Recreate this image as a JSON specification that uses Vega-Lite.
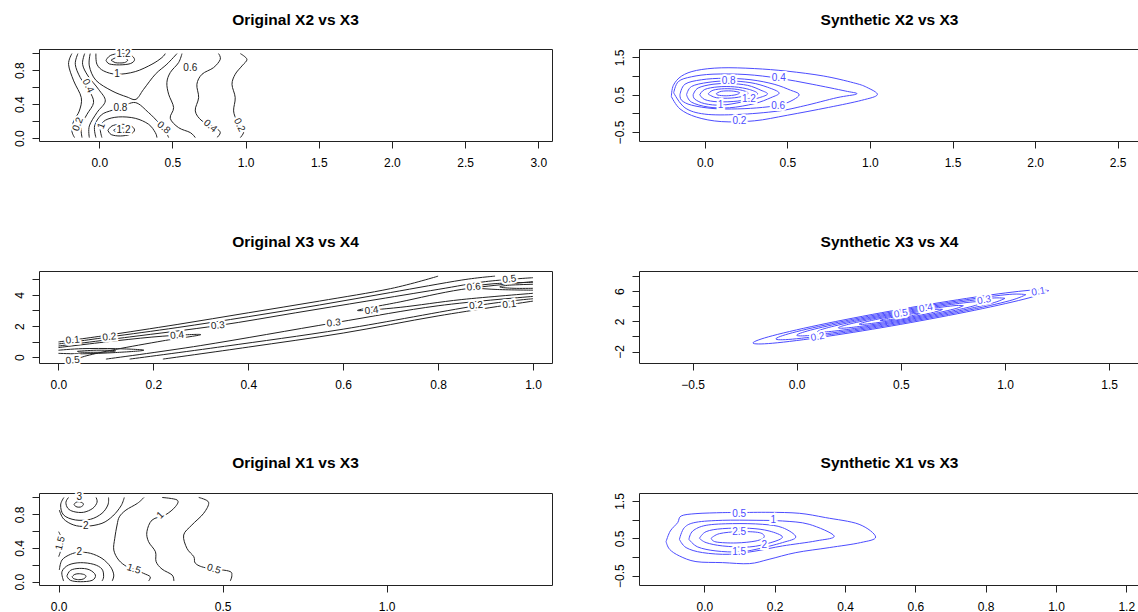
{
  "$schema": "https://vega.github.io/schema/vega-lite/v6.json",
  "background": "white",
  "padding": {"left": 12, "top": 12, "right": 0, "bottom": 0},
  "columns": 2,
  "spacing": {"row": 130, "column": 87},
  "bounds": "flush",
  "config": {
    "font": "Liberation Sans",
    "view": {"stroke": "#222", "strokeWidth": 1},
    "axis": {"domain": false, "grid": false, "ticks": true, "tickColor": "#222", "tickSize": 7, "labelColor": "#000", "labelFontSize": 12, "labelFont": "Liberation Sans", "labelFlush": false, "labelOverlap": false},
    "axisX": {"labelPadding": 9},
    "axisY": {"labelAngle": 270, "labelAlign": "center", "labelBaseline": "bottom", "labelPadding": 6},
    "title": {"fontSize": 15.5, "fontWeight": "bold", "font": "Liberation Sans", "color": "#000", "anchor": "middle", "frame": "group", "baseline": "alphabetic", "offset": 21},
    "text": {"font": "Liberation Sans", "fontSize": 10}
  },
  "datasets": {
    "A_lines": [
      {"id":"a1","s":1,"x":-0.187,"y":0.996},{"id":"a1","s":2,"x":-0.21,"y":0.87},{"id":"a1","s":3,"x":-0.175,"y":0.675},{"id":"a1","s":4,"x":-0.123,"y":0.478},{"id":"a1","s":5,"x":-0.137,"y":0.32},{"id":"a1","s":6,"x":-0.175,"y":0.204},{"id":"a1","s":7,"x":-0.187,"y":0.086},{"id":"a1","s":8,"x":-0.169,"y":0.008},
      {"id":"a2","s":1,"x":-0.146,"y":0.996},{"id":"a2","s":2,"x":-0.164,"y":0.87},{"id":"a2","s":3,"x":-0.13,"y":0.714},{"id":"a2","s":4,"x":-0.068,"y":0.557},{"id":"a2","s":5,"x":-0.039,"y":0.42},{"id":"a2","s":6,"x":-0.084,"y":0.282},{"id":"a2","s":7,"x":-0.123,"y":0.145},{"id":"a2","s":8,"x":-0.118,"y":0.008},
      {"id":"a3","s":1,"x":-0.1,"y":0.996},{"id":"a3","s":2,"x":-0.114,"y":0.87},{"id":"a3","s":3,"x":-0.077,"y":0.733},{"id":"a3","s":4,"x":-0.005,"y":0.576},{"id":"a3","s":5,"x":0.041,"y":0.439},{"id":"a3","s":6,"x":-0.016,"y":0.302},{"id":"a3","s":7,"x":-0.068,"y":0.145},{"id":"a3","s":8,"x":-0.068,"y":0.008},
      {"id":"a4","s":1,"x":-0.062,"y":0.996},{"id":"a4","s":2,"x":-0.068,"y":0.851},{"id":"a4","s":3,"x":-0.023,"y":0.682},{"id":"a4","s":4,"x":0.087,"y":0.557},{"id":"a4","s":5,"x":0.189,"y":0.486},{"id":"a4","s":6,"x":0.251,"y":0.459},{"id":"a4","s":7,"x":0.303,"y":0.576},{"id":"a4","s":8,"x":0.383,"y":0.753},{"id":"a4","s":9,"x":0.462,"y":0.871},{"id":"a4","s":10,"x":0.531,"y":0.996},
      {"id":"a5","s":1,"x":-0.023,"y":0.008},{"id":"a5","s":2,"x":-0.032,"y":0.145},{"id":"a5","s":3,"x":0.014,"y":0.275},{"id":"a5","s":4,"x":0.087,"y":0.329},{"id":"a5","s":5,"x":0.144,"y":0.361},{"id":"a5","s":6,"x":0.246,"y":0.42},{"id":"a5","s":7,"x":0.337,"y":0.302},{"id":"a5","s":8,"x":0.405,"y":0.184},{"id":"a5","s":9,"x":0.451,"y":0.086},{"id":"a5","s":10,"x":0.474,"y":0.008},
      {"id":"a6","s":1,"x":-0.023,"y":0.996},{"id":"a6","s":2,"x":-0.016,"y":0.871},{"id":"a6","s":3,"x":0.03,"y":0.792},{"id":"a6","s":4,"x":0.121,"y":0.753},{"id":"a6","s":5,"x":0.246,"y":0.784},{"id":"a6","s":6,"x":0.36,"y":0.871},{"id":"a6","s":7,"x":0.428,"y":0.949},{"id":"a6","s":8,"x":0.451,"y":0.996},
      {"id":"a7","s":1,"x":0.018,"y":0.008},{"id":"a7","s":2,"x":0.007,"y":0.125},{"id":"a7","s":3,"x":0.041,"y":0.212},{"id":"a7","s":4,"x":0.132,"y":0.251},{"id":"a7","s":5,"x":0.246,"y":0.235},{"id":"a7","s":6,"x":0.337,"y":0.165},{"id":"a7","s":7,"x":0.383,"y":0.067},{"id":"a7","s":8,"x":0.394,"y":0.008},
      {"id":"a8","s":1,"x":0.046,"y":0.918},{"id":"a8","s":2,"x":0.075,"y":0.973},{"id":"a8","s":3,"x":0.137,"y":0.996},{"id":"a8","s":4,"x":0.212,"y":0.98},{"id":"a8","s":5,"x":0.241,"y":0.925},{"id":"a8","s":6,"x":0.212,"y":0.878},{"id":"a8","s":7,"x":0.137,"y":0.863},{"id":"a8","s":8,"x":0.068,"y":0.875},{"id":"a8","s":9,"x":0.046,"y":0.918},
      {"id":"a9","s":1,"x":0.08,"y":0.918},{"id":"a9","s":2,"x":0.109,"y":0.945},{"id":"a9","s":3,"x":0.137,"y":0.949},{"id":"a9","s":4,"x":0.173,"y":0.945},{"id":"a9","s":5,"x":0.194,"y":0.918},{"id":"a9","s":6,"x":0.173,"y":0.89},{"id":"a9","s":7,"x":0.137,"y":0.886},{"id":"a9","s":8,"x":0.109,"y":0.89},{"id":"a9","s":9,"x":0.08,"y":0.918},
      {"id":"a10","s":1,"x":0.059,"y":0.094},{"id":"a10","s":2,"x":0.087,"y":0.145},{"id":"a10","s":3,"x":0.144,"y":0.165},{"id":"a10","s":4,"x":0.212,"y":0.149},{"id":"a10","s":5,"x":0.241,"y":0.098},{"id":"a10","s":6,"x":0.212,"y":0.047},{"id":"a10","s":7,"x":0.144,"y":0.027},{"id":"a10","s":8,"x":0.082,"y":0.043},{"id":"a10","s":9,"x":0.059,"y":0.094},
      {"id":"a11","s":1,"x":0.098,"y":0.094},{"id":"a11","s":2,"x":0.121,"y":0.118},{"id":"a11","s":3,"x":0.15,"y":0.122},{"id":"a11","s":4,"x":0.182,"y":0.114},{"id":"a11","s":5,"x":0.196,"y":0.094},{"id":"a11","s":6,"x":0.178,"y":0.071},{"id":"a11","s":7,"x":0.144,"y":0.067},{"id":"a11","s":8,"x":0.114,"y":0.075},{"id":"a11","s":9,"x":0.098,"y":0.094},
      {"id":"a12","s":1,"x":0.565,"y":0.996},{"id":"a12","s":2,"x":0.542,"y":0.89},{"id":"a12","s":3,"x":0.485,"y":0.773},{"id":"a12","s":4,"x":0.462,"y":0.655},{"id":"a12","s":5,"x":0.474,"y":0.518},{"id":"a12","s":6,"x":0.508,"y":0.361},{"id":"a12","s":7,"x":0.485,"y":0.235},{"id":"a12","s":8,"x":0.542,"y":0.125},{"id":"a12","s":9,"x":0.622,"y":0.067},{"id":"a12","s":10,"x":0.656,"y":0.008},
      {"id":"a13","s":1,"x":0.815,"y":0.996},{"id":"a13","s":2,"x":0.827,"y":0.929},{"id":"a13","s":3,"x":0.781,"y":0.831},{"id":"a13","s":4,"x":0.702,"y":0.753},{"id":"a13","s":5,"x":0.667,"y":0.635},{"id":"a13","s":6,"x":0.679,"y":0.478},{"id":"a13","s":7,"x":0.656,"y":0.322},{"id":"a13","s":8,"x":0.702,"y":0.204},{"id":"a13","s":9,"x":0.793,"y":0.125},{"id":"a13","s":10,"x":0.827,"y":0.067},{"id":"a13","s":11,"x":0.804,"y":0.008},
      {"id":"a14","s":1,"x":0.964,"y":0.996},{"id":"a14","s":2,"x":1.009,"y":0.929},{"id":"a14","s":3,"x":0.975,"y":0.851},{"id":"a14","s":4,"x":0.929,"y":0.753},{"id":"a14","s":5,"x":0.907,"y":0.635},{"id":"a14","s":6,"x":0.929,"y":0.478},{"id":"a14","s":7,"x":0.918,"y":0.322},{"id":"a14","s":8,"x":0.941,"y":0.204},{"id":"a14","s":9,"x":0.975,"y":0.125},{"id":"a14","s":10,"x":0.986,"y":0.067},{"id":"a14","s":11,"x":0.964,"y":0.008}
    ],
    "A_labels": [
      {"x":0.166,"y":0.99,"t":"1.2"},{"x":0.121,"y":0.753,"t":"1"},{"x":0.622,"y":0.831,"t":"0.6"},{"x":0.144,"y":0.361,"t":"0.8"},{"x":0.166,"y":0.094,"t":"1.2"}
    ],
    "A_labels_down": [
      {"x":-0.077,"y":0.616,"t":"0.4"},{"x":0.957,"y":0.157,"t":"0.2"}
    ],
    "A_labels_up": [
      {"x":-0.146,"y":0.165,"t":"0.2"},{"x":0.014,"y":0.145,"t":"1"}
    ],
    "A_labels_tilt": [
      {"x":0.44,"y":0.125,"t":"0.8"},{"x":0.759,"y":0.145,"t":"0.4"}
    ],
    "B_lines": [
      {"id":"b1","s":1,"x":-0.202,"y":0.45},{"id":"b1","s":2,"x":-0.19,"y":0.75},{"id":"b1","s":3,"x":-0.14,"y":1.0},{"id":"b1","s":4,"x":-0.05,"y":1.15},{"id":"b1","s":5,"x":0.1,"y":1.22},{"id":"b1","s":6,"x":0.3,"y":1.2},{"id":"b1","s":7,"x":0.5,"y":1.13},{"id":"b1","s":8,"x":0.72,"y":1.0},{"id":"b1","s":9,"x":0.9,"y":0.82},{"id":"b1","s":10,"x":0.98,"y":0.7},{"id":"b1","s":11,"x":1.045,"y":0.5},{"id":"b1","s":12,"x":0.95,"y":0.35},{"id":"b1","s":13,"x":0.75,"y":0.16},{"id":"b1","s":14,"x":0.5,"y":-0.05},{"id":"b1","s":15,"x":0.3,"y":-0.2},{"id":"b1","s":16,"x":0.1,"y":-0.22},{"id":"b1","s":17,"x":-0.05,"y":-0.1},{"id":"b1","s":18,"x":-0.15,"y":0.12},{"id":"b1","s":19,"x":-0.202,"y":0.45},
      {"id":"b2","s":1,"x":-0.188,"y":0.55},{"id":"b2","s":2,"x":-0.16,"y":0.85},{"id":"b2","s":3,"x":-0.08,"y":0.98},{"id":"b2","s":4,"x":0.05,"y":1.05},{"id":"b2","s":5,"x":0.25,"y":1.04},{"id":"b2","s":6,"x":0.45,"y":0.94},{"id":"b2","s":7,"x":0.65,"y":0.78},{"id":"b2","s":8,"x":0.85,"y":0.6},{"id":"b2","s":9,"x":0.92,"y":0.52},{"id":"b2","s":10,"x":0.8,"y":0.42},{"id":"b2","s":11,"x":0.6,"y":0.2},{"id":"b2","s":12,"x":0.44,"y":0.06},{"id":"b2","s":13,"x":0.2,"y":-0.03},{"id":"b2","s":14,"x":0.0,"y":-0.02},{"id":"b2","s":15,"x":-0.12,"y":0.15},{"id":"b2","s":16,"x":-0.188,"y":0.55},
      {"id":"b3","s":1,"x":-0.15,"y":0.5},{"id":"b3","s":2,"x":-0.12,"y":0.78},{"id":"b3","s":3,"x":-0.02,"y":0.9},{"id":"b3","s":4,"x":0.12,"y":0.94},{"id":"b3","s":5,"x":0.28,"y":0.9},{"id":"b3","s":6,"x":0.42,"y":0.78},{"id":"b3","s":7,"x":0.52,"y":0.62},{"id":"b3","s":8,"x":0.57,"y":0.52},{"id":"b3","s":9,"x":0.55,"y":0.4},{"id":"b3","s":10,"x":0.47,"y":0.24},{"id":"b3","s":11,"x":0.35,"y":0.16},{"id":"b3","s":12,"x":0.2,"y":0.12},{"id":"b3","s":13,"x":0.05,"y":0.13},{"id":"b3","s":14,"x":-0.08,"y":0.22},{"id":"b3","s":15,"x":-0.14,"y":0.35},{"id":"b3","s":16,"x":-0.15,"y":0.5},
      {"id":"b4","s":1,"x":-0.11,"y":0.5},{"id":"b4","s":2,"x":-0.08,"y":0.72},{"id":"b4","s":3,"x":0.02,"y":0.83},{"id":"b4","s":4,"x":0.145,"y":0.87},{"id":"b4","s":5,"x":0.28,"y":0.82},{"id":"b4","s":6,"x":0.38,"y":0.7},{"id":"b4","s":7,"x":0.45,"y":0.55},{"id":"b4","s":8,"x":0.4,"y":0.42},{"id":"b4","s":9,"x":0.3,"y":0.26},{"id":"b4","s":10,"x":0.15,"y":0.15},{"id":"b4","s":11,"x":0.02,"y":0.17},{"id":"b4","s":12,"x":-0.08,"y":0.3},{"id":"b4","s":13,"x":-0.11,"y":0.5},
      {"id":"b5","s":1,"x":-0.07,"y":0.5},{"id":"b5","s":2,"x":-0.04,"y":0.68},{"id":"b5","s":3,"x":0.05,"y":0.78},{"id":"b5","s":4,"x":0.15,"y":0.8},{"id":"b5","s":5,"x":0.26,"y":0.75},{"id":"b5","s":6,"x":0.34,"y":0.62},{"id":"b5","s":7,"x":0.38,"y":0.52},{"id":"b5","s":8,"x":0.33,"y":0.42},{"id":"b5","s":9,"x":0.22,"y":0.3},{"id":"b5","s":10,"x":0.1,"y":0.22},{"id":"b5","s":11,"x":0.0,"y":0.26},{"id":"b5","s":12,"x":-0.06,"y":0.38},{"id":"b5","s":13,"x":-0.07,"y":0.5},
      {"id":"b6","s":1,"x":-0.03,"y":0.5},{"id":"b6","s":2,"x":0.0,"y":0.64},{"id":"b6","s":3,"x":0.08,"y":0.71},{"id":"b6","s":4,"x":0.18,"y":0.71},{"id":"b6","s":5,"x":0.27,"y":0.64},{"id":"b6","s":6,"x":0.32,"y":0.53},{"id":"b6","s":7,"x":0.28,"y":0.42},{"id":"b6","s":8,"x":0.2,"y":0.33},{"id":"b6","s":9,"x":0.08,"y":0.31},{"id":"b6","s":10,"x":0.0,"y":0.37},{"id":"b6","s":11,"x":-0.03,"y":0.5},
      {"id":"b7","s":1,"x":0.02,"y":0.52},{"id":"b7","s":2,"x":0.05,"y":0.62},{"id":"b7","s":3,"x":0.12,"y":0.66},{"id":"b7","s":4,"x":0.2,"y":0.64},{"id":"b7","s":5,"x":0.26,"y":0.56},{"id":"b7","s":6,"x":0.24,"y":0.47},{"id":"b7","s":7,"x":0.16,"y":0.41},{"id":"b7","s":8,"x":0.07,"y":0.42},{"id":"b7","s":9,"x":0.02,"y":0.52},
      {"id":"b8","s":1,"x":0.07,"y":0.53},{"id":"b8","s":2,"x":0.1,"y":0.59},{"id":"b8","s":3,"x":0.16,"y":0.6},{"id":"b8","s":4,"x":0.21,"y":0.56},{"id":"b8","s":5,"x":0.19,"y":0.5},{"id":"b8","s":6,"x":0.13,"y":0.47},{"id":"b8","s":7,"x":0.08,"y":0.49},{"id":"b8","s":8,"x":0.07,"y":0.53}
    ],
    "B_labels": [
      {"x":0.21,"y":-0.215,"t":"0.2"},{"x":0.448,"y":0.94,"t":"0.4"},{"x":0.444,"y":0.2,"t":"0.6"},{"x":0.145,"y":0.866,"t":"0.8"},{"x":0.095,"y":0.225,"t":"1"},{"x":0.267,"y":0.38,"t":"1.2"}
    ],
    "C_lines": [
      {"id":"c1","s":1,"x":0.0,"y":0.98},{"id":"c1","s":2,"x":0.1,"y":1.4},{"id":"c1","s":3,"x":0.25,"y":2.1},{"id":"c1","s":4,"x":0.4,"y":2.85},{"id":"c1","s":5,"x":0.55,"y":3.6},{"id":"c1","s":6,"x":0.7,"y":4.4},{"id":"c1","s":7,"x":0.8,"y":5.2},
      {"id":"c2","s":1,"x":0.0,"y":0.85},{"id":"c2","s":2,"x":0.107,"y":1.3},{"id":"c2","s":3,"x":0.25,"y":1.9},{"id":"c2","s":4,"x":0.4,"y":2.6},{"id":"c2","s":5,"x":0.55,"y":3.35},{"id":"c2","s":6,"x":0.7,"y":4.15},{"id":"c2","s":7,"x":0.85,"y":4.95},{"id":"c2","s":8,"x":0.92,"y":5.2},
      {"id":"c3","s":1,"x":0.0,"y":0.72},{"id":"c3","s":2,"x":0.15,"y":1.3},{"id":"c3","s":3,"x":0.336,"y":2.03},{"id":"c3","s":4,"x":0.5,"y":2.85},{"id":"c3","s":5,"x":0.65,"y":3.6},{"id":"c3","s":6,"x":0.8,"y":4.35},{"id":"c3","s":7,"x":0.9,"y":4.85},{"id":"c3","s":8,"x":1.0,"y":5.1},
      {"id":"c4","s":1,"x":0.22,"y":-0.12},{"id":"c4","s":2,"x":0.4,"y":0.65},{"id":"c4","s":3,"x":0.6,"y":1.55},{"id":"c4","s":4,"x":0.8,"y":2.65},{"id":"c4","s":5,"x":1.0,"y":3.6},
      {"id":"c5","s":1,"x":0.15,"y":-0.12},{"id":"c5","s":2,"x":0.35,"y":0.7},{"id":"c5","s":3,"x":0.6,"y":1.8},{"id":"c5","s":4,"x":0.88,"y":3.3},{"id":"c5","s":5,"x":1.0,"y":3.75},
      {"id":"c6","s":1,"x":0.1,"y":-0.12},{"id":"c6","s":2,"x":0.3,"y":0.75},{"id":"c6","s":3,"x":0.58,"y":2.2},{"id":"c6","s":4,"x":0.8,"y":3.3},{"id":"c6","s":5,"x":1.0,"y":3.9},
      {"id":"c7","s":1,"x":0.0,"y":0.62},{"id":"c7","s":2,"x":0.12,"y":1.05},{"id":"c7","s":3,"x":0.22,"y":1.35},{"id":"c7","s":4,"x":0.3,"y":1.45},{"id":"c7","s":5,"x":0.22,"y":1.05},{"id":"c7","s":6,"x":0.12,"y":0.5},{"id":"c7","s":7,"x":0.06,"y":0.1},{"id":"c7","s":8,"x":0.04,"y":-0.12},
      {"id":"c8","s":1,"x":0.0,"y":0.45},{"id":"c8","s":2,"x":0.05,"y":0.55},{"id":"c8","s":3,"x":0.12,"y":0.55},{"id":"c8","s":4,"x":0.18,"y":0.45},{"id":"c8","s":5,"x":0.12,"y":0.3},{"id":"c8","s":6,"x":0.05,"y":0.22},{"id":"c8","s":7,"x":0.0,"y":0.25},
      {"id":"c9","s":1,"x":0.04,"y":0.38},{"id":"c9","s":2,"x":0.08,"y":0.45},{"id":"c9","s":3,"x":0.12,"y":0.42},{"id":"c9","s":4,"x":0.1,"y":0.33},{"id":"c9","s":5,"x":0.05,"y":0.32},{"id":"c9","s":6,"x":0.04,"y":0.38},
      {"id":"c10","s":1,"x":1.0,"y":4.85},{"id":"c10","s":2,"x":0.85,"y":4.35},{"id":"c10","s":3,"x":0.72,"y":3.55},{"id":"c10","s":4,"x":0.63,"y":3.0},{"id":"c10","s":5,"x":0.72,"y":3.2},{"id":"c10","s":6,"x":0.85,"y":3.7},{"id":"c10","s":7,"x":1.0,"y":4.1},
      {"id":"c11","s":1,"x":1.0,"y":4.8},{"id":"c11","s":2,"x":0.92,"y":4.72},{"id":"c11","s":3,"x":0.87,"y":4.5},{"id":"c11","s":4,"x":0.92,"y":4.35},{"id":"c11","s":5,"x":1.0,"y":4.3},
      {"id":"c12","s":1,"x":1.0,"y":4.68},{"id":"c12","s":2,"x":0.95,"y":4.62},{"id":"c12","s":3,"x":0.93,"y":4.5},{"id":"c12","s":4,"x":0.96,"y":4.42},{"id":"c12","s":5,"x":1.0,"y":4.42}
    ],
    "C_labels": [
      {"x":0.03,"y":1.1,"t":"0.1"},{"x":0.107,"y":1.3,"t":"0.2"},{"x":0.25,"y":1.4,"t":"0.4"},{"x":0.336,"y":2.03,"t":"0.3"},{"x":0.03,"y":-0.2,"t":"0.5"},{"x":0.58,"y":2.2,"t":"0.3"},{"x":0.66,"y":3.0,"t":"0.4"},{"x":0.875,"y":4.5,"t":"0.6"},{"x":0.95,"y":5.0,"t":"0.5"},{"x":0.88,"y":3.32,"t":"0.2"},{"x":0.95,"y":3.38,"t":"0.1"}
    ],
    "D_lines": [
      {"id":"d1","s":1,"x":1.21,"y":6.065},{"id":"d1","s":2,"x":1.115,"y":6.1},{"id":"d1","s":3,"x":0.855,"y":5.198},{"id":"d1","s":4,"x":0.5,"y":3.6},{"id":"d1","s":5,"x":0.145,"y":1.734},{"id":"d1","s":6,"x":-0.115,"y":0.1},{"id":"d1","s":7,"x":-0.21,"y":-0.865},{"id":"d1","s":8,"x":-0.115,"y":-0.9},{"id":"d1","s":9,"x":0.145,"y":0.002},{"id":"d1","s":10,"x":0.5,"y":1.6},{"id":"d1","s":11,"x":0.855,"y":3.466},{"id":"d1","s":12,"x":1.115,"y":5.1},{"id":"d1","s":13,"x":1.21,"y":6.065},
      {"id":"d2","s":1,"x":1.1,"y":5.528},{"id":"d2","s":2,"x":1.02,"y":5.561},{"id":"d2","s":3,"x":0.8,"y":4.8},{"id":"d2","s":4,"x":0.5,"y":3.45},{"id":"d2","s":5,"x":0.2,"y":1.872},{"id":"d2","s":6,"x":-0.02,"y":0.489},{"id":"d2","s":7,"x":-0.1,"y":-0.328},{"id":"d2","s":8,"x":-0.02,"y":-0.361},{"id":"d2","s":9,"x":0.2,"y":0.4},{"id":"d2","s":10,"x":0.5,"y":1.75},{"id":"d2","s":11,"x":0.8,"y":3.328},{"id":"d2","s":12,"x":1.02,"y":4.711},{"id":"d2","s":13,"x":1.1,"y":5.528},
      {"id":"d3","s":1,"x":1.0,"y":5.04},{"id":"d3","s":2,"x":0.933,"y":5.063},{"id":"d3","s":3,"x":0.75,"y":4.426},{"id":"d3","s":4,"x":0.5,"y":3.3},{"id":"d3","s":5,"x":0.25,"y":1.986},{"id":"d3","s":6,"x":0.067,"y":0.837},{"id":"d3","s":7,"x":0.0,"y":0.16},{"id":"d3","s":8,"x":0.067,"y":0.137},{"id":"d3","s":9,"x":0.25,"y":0.774},{"id":"d3","s":10,"x":0.5,"y":1.9},{"id":"d3","s":11,"x":0.75,"y":3.214},{"id":"d3","s":12,"x":0.933,"y":4.363},{"id":"d3","s":13,"x":1.0,"y":5.04},
      {"id":"d4","s":1,"x":0.9,"y":4.552},{"id":"d4","s":2,"x":0.846,"y":4.57},{"id":"d4","s":3,"x":0.7,"y":4.061},{"id":"d4","s":4,"x":0.5,"y":3.16},{"id":"d4","s":5,"x":0.3,"y":2.109},{"id":"d4","s":6,"x":0.154,"y":1.19},{"id":"d4","s":7,"x":0.1,"y":0.648},{"id":"d4","s":8,"x":0.154,"y":0.63},{"id":"d4","s":9,"x":0.3,"y":1.139},{"id":"d4","s":10,"x":0.5,"y":2.04},{"id":"d4","s":11,"x":0.7,"y":3.091},{"id":"d4","s":12,"x":0.846,"y":4.01},{"id":"d4","s":13,"x":0.9,"y":4.552},
      {"id":"d5","s":1,"x":0.8,"y":4.064},{"id":"d5","s":2,"x":0.76,"y":4.078},{"id":"d5","s":3,"x":0.65,"y":3.696},{"id":"d5","s":4,"x":0.5,"y":3.02},{"id":"d5","s":5,"x":0.35,"y":2.232},{"id":"d5","s":6,"x":0.24,"y":1.542},{"id":"d5","s":7,"x":0.2,"y":1.136},{"id":"d5","s":8,"x":0.24,"y":1.122},{"id":"d5","s":9,"x":0.35,"y":1.504},{"id":"d5","s":10,"x":0.5,"y":2.18},{"id":"d5","s":11,"x":0.65,"y":2.968},{"id":"d5","s":12,"x":0.76,"y":3.658},{"id":"d5","s":13,"x":0.8,"y":4.064},
      {"id":"d6","s":1,"x":0.7,"y":3.576},{"id":"d6","s":2,"x":0.673,"y":3.585},{"id":"d6","s":3,"x":0.6,"y":3.33},{"id":"d6","s":4,"x":0.5,"y":2.88},{"id":"d6","s":5,"x":0.4,"y":2.354},{"id":"d6","s":6,"x":0.327,"y":1.895},{"id":"d6","s":7,"x":0.3,"y":1.624},{"id":"d6","s":8,"x":0.327,"y":1.615},{"id":"d6","s":9,"x":0.4,"y":1.87},{"id":"d6","s":10,"x":0.5,"y":2.32},{"id":"d6","s":11,"x":0.6,"y":2.846},{"id":"d6","s":12,"x":0.673,"y":3.305},{"id":"d6","s":13,"x":0.7,"y":3.576},
      {"id":"d7","s":1,"x":0.6,"y":3.088},{"id":"d7","s":2,"x":0.55,"y":2.965},{"id":"d7","s":3,"x":0.45,"y":2.477},{"id":"d7","s":4,"x":0.4,"y":2.112},{"id":"d7","s":5,"x":0.45,"y":2.235},{"id":"d7","s":6,"x":0.55,"y":2.723},{"id":"d7","s":7,"x":0.6,"y":3.088}
    ],
    "D_labels": [
      {"x":1.16,"y":5.95,"t":"0.1"},{"x":0.1,"y":-0.05,"t":"0.2"},{"x":0.9,"y":4.8,"t":"0.3"},{"x":0.62,"y":3.75,"t":"0.4"},{"x":0.5,"y":3.02,"t":"0.5"}
    ],
    "E_lines": [
      {"id":"e1","s":1,"x":0.047,"y":0.919},{"id":"e1","s":2,"x":0.053,"y":0.943},{"id":"e1","s":3,"x":0.063,"y":0.95},{"id":"e1","s":4,"x":0.073,"y":0.935},{"id":"e1","s":5,"x":0.075,"y":0.911},{"id":"e1","s":6,"x":0.067,"y":0.887},{"id":"e1","s":7,"x":0.056,"y":0.887},{"id":"e1","s":8,"x":0.049,"y":0.903},{"id":"e1","s":9,"x":0.047,"y":0.919},
      {"id":"e2","s":1,"x":0.03,"y":1.0},{"id":"e2","s":2,"x":0.022,"y":0.943},{"id":"e2","s":3,"x":0.028,"y":0.871},{"id":"e2","s":4,"x":0.046,"y":0.832},{"id":"e2","s":5,"x":0.076,"y":0.824},{"id":"e2","s":6,"x":0.104,"y":0.871},{"id":"e2","s":7,"x":0.117,"y":0.943},{"id":"e2","s":8,"x":0.114,"y":1.0},
      {"id":"e3","s":1,"x":0.016,"y":1.0},{"id":"e3","s":2,"x":0.006,"y":0.911},{"id":"e3","s":3,"x":0.015,"y":0.792},{"id":"e3","s":4,"x":0.051,"y":0.733},{"id":"e3","s":5,"x":0.097,"y":0.741},{"id":"e3","s":6,"x":0.132,"y":0.812},{"id":"e3","s":7,"x":0.15,"y":0.911},{"id":"e3","s":8,"x":0.152,"y":1.0},
      {"id":"e4","s":1,"x":0.002,"y":0.851},{"id":"e4","s":2,"x":0.015,"y":0.745},{"id":"e4","s":3,"x":0.046,"y":0.673},{"id":"e4","s":4,"x":0.083,"y":0.657},{"id":"e4","s":5,"x":0.132,"y":0.693},{"id":"e4","s":6,"x":0.165,"y":0.78},{"id":"e4","s":7,"x":0.19,"y":0.9},{"id":"e4","s":8,"x":0.2,"y":1.0},
      {"id":"e5","s":1,"x":0.26,"y":1.0},{"id":"e5","s":2,"x":0.24,"y":0.93},{"id":"e5","s":3,"x":0.205,"y":0.85},{"id":"e5","s":4,"x":0.185,"y":0.77},{"id":"e5","s":5,"x":0.178,"y":0.673},{"id":"e5","s":6,"x":0.171,"y":0.515},{"id":"e5","s":7,"x":0.168,"y":0.376},{"id":"e5","s":8,"x":0.183,"y":0.257},{"id":"e5","s":9,"x":0.208,"y":0.178},{"id":"e5","s":10,"x":0.229,"y":0.15},{"id":"e5","s":11,"x":0.259,"y":0.099},{"id":"e5","s":12,"x":0.279,"y":0.059},{"id":"e5","s":13,"x":0.274,"y":0.008},
      {"id":"e6","s":1,"x":0.315,"y":1.0},{"id":"e6","s":2,"x":0.361,"y":0.97},{"id":"e6","s":3,"x":0.356,"y":0.891},{"id":"e6","s":4,"x":0.325,"y":0.792},{"id":"e6","s":5,"x":0.285,"y":0.733},{"id":"e6","s":6,"x":0.269,"y":0.594},{"id":"e6","s":7,"x":0.274,"y":0.475},{"id":"e6","s":8,"x":0.295,"y":0.356},{"id":"e6","s":9,"x":0.297,"y":0.238},{"id":"e6","s":10,"x":0.315,"y":0.15},{"id":"e6","s":11,"x":0.346,"y":0.079},{"id":"e6","s":12,"x":0.351,"y":0.008},
      {"id":"e7","s":1,"x":0.427,"y":1.0},{"id":"e7","s":2,"x":0.457,"y":0.943},{"id":"e7","s":3,"x":0.442,"y":0.812},{"id":"e7","s":4,"x":0.406,"y":0.673},{"id":"e7","s":5,"x":0.381,"y":0.554},{"id":"e7","s":6,"x":0.391,"y":0.396},{"id":"e7","s":7,"x":0.412,"y":0.297},{"id":"e7","s":8,"x":0.417,"y":0.218},{"id":"e7","s":9,"x":0.447,"y":0.166},{"id":"e7","s":10,"x":0.518,"y":0.127},{"id":"e7","s":11,"x":0.528,"y":0.075},{"id":"e7","s":12,"x":0.523,"y":0.008},
      {"id":"e8","s":1,"x":0.041,"y":0.059},{"id":"e8","s":2,"x":0.049,"y":0.087},{"id":"e8","s":3,"x":0.063,"y":0.095},{"id":"e8","s":4,"x":0.079,"y":0.083},{"id":"e8","s":5,"x":0.083,"y":0.059},{"id":"e8","s":6,"x":0.075,"y":0.032},{"id":"e8","s":7,"x":0.061,"y":0.024},{"id":"e8","s":8,"x":0.046,"y":0.036},{"id":"e8","s":9,"x":0.041,"y":0.059},
      {"id":"e9","s":1,"x":0.025,"y":0.067},{"id":"e9","s":2,"x":0.036,"y":0.135},{"id":"e9","s":3,"x":0.063,"y":0.158},{"id":"e9","s":4,"x":0.093,"y":0.143},{"id":"e9","s":5,"x":0.112,"y":0.079},{"id":"e9","s":6,"x":0.102,"y":0.016},{"id":"e9","s":7,"x":0.066,"y":0.0},{"id":"e9","s":8,"x":0.036,"y":0.016},{"id":"e9","s":9,"x":0.025,"y":0.067},
      {"id":"e10","s":1,"x":0.015,"y":0.008},{"id":"e10","s":2,"x":0.01,"y":0.119},{"id":"e10","s":3,"x":0.03,"y":0.198},{"id":"e10","s":4,"x":0.066,"y":0.226},{"id":"e10","s":5,"x":0.107,"y":0.206},{"id":"e10","s":6,"x":0.132,"y":0.15},{"id":"e10","s":7,"x":0.137,"y":0.059},{"id":"e10","s":8,"x":0.132,"y":0.008},
      {"id":"e11","s":1,"x":0.002,"y":0.139},{"id":"e11","s":2,"x":0.01,"y":0.257},{"id":"e11","s":3,"x":0.036,"y":0.325},{"id":"e11","s":4,"x":0.063,"y":0.349},{"id":"e11","s":5,"x":0.097,"y":0.337},{"id":"e11","s":6,"x":0.132,"y":0.277},{"id":"e11","s":7,"x":0.158,"y":0.178},{"id":"e11","s":8,"x":0.168,"y":0.079},{"id":"e11","s":9,"x":0.163,"y":0.008},
      {"id":"e12","s":1,"x":0.0,"y":0.594},{"id":"e12","s":2,"x":0.01,"y":0.495},{"id":"e12","s":3,"x":0.008,"y":0.396},{"id":"e12","s":4,"x":0.0,"y":0.297}
    ],
    "E_labels": [
      {"x":0.063,"y":1.0,"t":"3"},{"x":0.083,"y":0.665,"t":"2"},{"x":0.063,"y":0.349,"t":"2"}
    ],
    "E_labels_up": [
      {"x":0.005,"y":0.455,"t":"1.5"}
    ],
    "E_labels_diag": [
      {"x":0.31,"y":0.79,"t":"1"}
    ],
    "E_labels_tilt": [
      {"x":0.229,"y":0.15,"t":"1.5"},{"x":0.473,"y":0.15,"t":"0.5"}
    ],
    "F_lines": [
      {"id":"f1","s":1,"x":-0.109,"y":0.411},{"id":"f1","s":2,"x":-0.097,"y":0.696},{"id":"f1","s":3,"x":-0.076,"y":0.92},{"id":"f1","s":4,"x":-0.066,"y":1.098},{"id":"f1","s":5,"x":-0.024,"y":1.161},{"id":"f1","s":6,"x":0.052,"y":1.188},{"id":"f1","s":7,"x":0.099,"y":1.19},{"id":"f1","s":8,"x":0.184,"y":1.196},{"id":"f1","s":9,"x":0.27,"y":1.17},{"id":"f1","s":10,"x":0.345,"y":1.054},{"id":"f1","s":11,"x":0.44,"y":0.875},{"id":"f1","s":12,"x":0.487,"y":0.536},{"id":"f1","s":13,"x":0.444,"y":0.384},{"id":"f1","s":14,"x":0.355,"y":0.25},{"id":"f1","s":15,"x":0.26,"y":0.116},{"id":"f1","s":16,"x":0.184,"y":-0.063},{"id":"f1","s":17,"x":0.128,"y":-0.179},{"id":"f1","s":18,"x":0.052,"y":-0.152},{"id":"f1","s":19,"x":-0.024,"y":-0.125},{"id":"f1","s":20,"x":-0.071,"y":0.027},{"id":"f1","s":21,"x":-0.099,"y":0.205},{"id":"f1","s":22,"x":-0.109,"y":0.411},
      {"id":"f2","s":1,"x":-0.071,"y":0.473},{"id":"f2","s":2,"x":-0.057,"y":0.786},{"id":"f2","s":3,"x":-0.024,"y":0.929},{"id":"f2","s":4,"x":0.052,"y":0.982},{"id":"f2","s":5,"x":0.147,"y":0.982},{"id":"f2","s":6,"x":0.222,"y":0.964},{"id":"f2","s":7,"x":0.298,"y":0.875},{"id":"f2","s":8,"x":0.369,"y":0.563},{"id":"f2","s":9,"x":0.317,"y":0.429},{"id":"f2","s":10,"x":0.222,"y":0.295},{"id":"f2","s":11,"x":0.147,"y":0.161},{"id":"f2","s":12,"x":0.071,"y":0.071},{"id":"f2","s":13,"x":-0.005,"y":0.116},{"id":"f2","s":14,"x":-0.052,"y":0.25},{"id":"f2","s":15,"x":-0.071,"y":0.473},
      {"id":"f3","s":1,"x":-0.044,"y":0.473},{"id":"f3","s":2,"x":-0.033,"y":0.696},{"id":"f3","s":3,"x":0.005,"y":0.848},{"id":"f3","s":4,"x":0.08,"y":0.893},{"id":"f3","s":5,"x":0.165,"y":0.875},{"id":"f3","s":6,"x":0.222,"y":0.786},{"id":"f3","s":7,"x":0.26,"y":0.536},{"id":"f3","s":8,"x":0.222,"y":0.384},{"id":"f3","s":9,"x":0.147,"y":0.205},{"id":"f3","s":10,"x":0.099,"y":0.134},{"id":"f3","s":11,"x":0.033,"y":0.161},{"id":"f3","s":12,"x":-0.019,"y":0.268},{"id":"f3","s":13,"x":-0.044,"y":0.473},
      {"id":"f4","s":1,"x":-0.014,"y":0.5},{"id":"f4","s":2,"x":0.005,"y":0.679},{"id":"f4","s":3,"x":0.052,"y":0.759},{"id":"f4","s":4,"x":0.128,"y":0.768},{"id":"f4","s":5,"x":0.184,"y":0.696},{"id":"f4","s":6,"x":0.222,"y":0.536},{"id":"f4","s":7,"x":0.189,"y":0.384},{"id":"f4","s":8,"x":0.128,"y":0.268},{"id":"f4","s":9,"x":0.052,"y":0.295},{"id":"f4","s":10,"x":0.005,"y":0.384},{"id":"f4","s":11,"x":-0.014,"y":0.5},
      {"id":"f5","s":1,"x":0.019,"y":0.5},{"id":"f5","s":2,"x":0.043,"y":0.625},{"id":"f5","s":3,"x":0.099,"y":0.679},{"id":"f5","s":4,"x":0.156,"y":0.652},{"id":"f5","s":5,"x":0.17,"y":0.536},{"id":"f5","s":6,"x":0.147,"y":0.429},{"id":"f5","s":7,"x":0.09,"y":0.375},{"id":"f5","s":8,"x":0.033,"y":0.402},{"id":"f5","s":9,"x":0.019,"y":0.5}
    ],
    "F_labels": [
      {"x":0.099,"y":1.15,"t":"0.5"},{"x":0.196,"y":0.982,"t":"1"},{"x":0.099,"y":0.679,"t":"2.5"},{"x":0.17,"y":0.33,"t":"2"},{"x":0.099,"y":0.134,"t":"1.5"}
    ]
  },
  "concat": [
    {
      "width": 513, "height": 92,
      "title": "Original X2 vs X3",
      "encoding": {
        "x": {"field": "x", "type": "quantitative", "scale": {"domain": [-0.412, 3.094], "nice": false, "zero": false}, "axis": {"title": null, "values": [0, 0.5, 1, 1.5, 2, 2.5, 3], "format": ".1f"}},
        "y": {"field": "y", "type": "quantitative", "scale": {"domain": [-0.032, 1.05], "nice": false, "zero": false}, "axis": {"title": null, "values": [0, 0.2, 0.4, 0.6, 0.8, 1], "labelExpr": "round(datum.value*10) % 4 == 0 ? format(datum.value, '.1f') : ''"}}
      },
      "layer": [
        {"data": {"name": "A_lines"}, "mark": {"type": "line", "interpolate": "cardinal", "color": "#222", "strokeWidth": 1}, "encoding": {"detail": {"field": "id", "type": "nominal"}, "order": {"field": "s", "type": "quantitative"}}},
        {"data": {"name": "A_labels"}, "mark": {"type": "text", "fill": "white", "stroke": "white", "strokeWidth": 4}, "encoding": {"text": {"field": "t", "type": "nominal"}}},
        {"data": {"name": "A_labels"}, "mark": {"type": "text", "fill": "#222"}, "encoding": {"text": {"field": "t", "type": "nominal"}}},
        {"data": {"name": "A_labels_down"}, "mark": {"type": "text", "angle": 65, "fill": "white", "stroke": "white", "strokeWidth": 4}, "encoding": {"text": {"field": "t", "type": "nominal"}}},
        {"data": {"name": "A_labels_down"}, "mark": {"type": "text", "angle": 65, "fill": "#222"}, "encoding": {"text": {"field": "t", "type": "nominal"}}},
        {"data": {"name": "A_labels_up"}, "mark": {"type": "text", "angle": 290, "fill": "white", "stroke": "white", "strokeWidth": 4}, "encoding": {"text": {"field": "t", "type": "nominal"}}},
        {"data": {"name": "A_labels_up"}, "mark": {"type": "text", "angle": 290, "fill": "#222"}, "encoding": {"text": {"field": "t", "type": "nominal"}}},
        {"data": {"name": "A_labels_tilt"}, "mark": {"type": "text", "angle": 40, "fill": "white", "stroke": "white", "strokeWidth": 4}, "encoding": {"text": {"field": "t", "type": "nominal"}}},
        {"data": {"name": "A_labels_tilt"}, "mark": {"type": "text", "angle": 40, "fill": "#222"}, "encoding": {"text": {"field": "t", "type": "nominal"}}}
      ]
    },
    {
      "width": 501, "height": 92,
      "title": "Synthetic X2 vs X3",
      "encoding": {
        "x": {"field": "x", "type": "quantitative", "scale": {"domain": [-0.398, 2.635], "nice": false, "zero": false}, "axis": {"title": null, "values": [0, 0.5, 1, 1.5, 2, 2.5], "format": ".1f"}},
        "y": {"field": "y", "type": "quantitative", "scale": {"domain": [-0.74, 1.724], "nice": false, "zero": false}, "axis": {"title": null, "values": [-0.5, 0, 0.5, 1, 1.5], "labelExpr": "abs(round(datum.value*2)) % 2 == 1 ? format(datum.value, '.1f') : ''"}}
      },
      "layer": [
        {"data": {"name": "B_lines"}, "mark": {"type": "line", "interpolate": "cardinal", "color": "#4c4cff", "strokeWidth": 1}, "encoding": {"detail": {"field": "id", "type": "nominal"}, "order": {"field": "s", "type": "quantitative"}}},
        {"data": {"name": "B_labels"}, "mark": {"type": "text", "fill": "white", "stroke": "white", "strokeWidth": 4}, "encoding": {"text": {"field": "t", "type": "nominal"}}},
        {"data": {"name": "B_labels"}, "mark": {"type": "text", "fill": "#4c4cff"}, "encoding": {"text": {"field": "t", "type": "nominal"}}}
      ]
    },
    {
      "width": 513, "height": 92,
      "title": "Original X3 vs X4",
      "encoding": {
        "x": {"field": "x", "type": "quantitative", "scale": {"domain": [-0.041, 1.04], "nice": false, "zero": false}, "axis": {"title": null, "values": [0, 0.2, 0.4, 0.6, 0.8, 1], "format": ".1f"}},
        "y": {"field": "y", "type": "quantitative", "scale": {"domain": [-0.37, 5.53], "nice": false, "zero": false}, "axis": {"title": null, "values": [0, 1, 2, 3, 4, 5], "labelExpr": "datum.value % 2 == 0 ? format(datum.value, 'd') : ''"}}
      },
      "layer": [
        {"data": {"name": "C_lines"}, "mark": {"type": "line", "interpolate": "cardinal", "color": "#222", "strokeWidth": 1}, "encoding": {"detail": {"field": "id", "type": "nominal"}, "order": {"field": "s", "type": "quantitative"}}},
        {"data": {"name": "C_labels"}, "mark": {"type": "text", "angle": -6, "fill": "white", "stroke": "white", "strokeWidth": 4}, "encoding": {"text": {"field": "t", "type": "nominal"}}},
        {"data": {"name": "C_labels"}, "mark": {"type": "text", "angle": -6, "fill": "#222"}, "encoding": {"text": {"field": "t", "type": "nominal"}}}
      ]
    },
    {
      "width": 501, "height": 92,
      "title": "Synthetic X3 vs X4",
      "encoding": {
        "x": {"field": "x", "type": "quantitative", "scale": {"domain": [-0.757, 1.648], "nice": false, "zero": false}, "axis": {"title": null, "values": [-0.5, 0, 0.5, 1, 1.5], "format": ".1f"}},
        "y": {"field": "y", "type": "quantitative", "scale": {"domain": [-3.52, 8.66], "nice": false, "zero": false}, "axis": {"title": null, "values": [-2, 0, 2, 4, 6, 8], "labelExpr": "(datum.value + 2) % 4 == 0 ? format(datum.value, 'd') : ''"}}
      },
      "layer": [
        {"data": {"name": "D_lines"}, "mark": {"type": "line", "interpolate": "cardinal", "color": "#4c4cff", "strokeWidth": 1}, "encoding": {"detail": {"field": "id", "type": "nominal"}, "order": {"field": "s", "type": "quantitative"}}},
        {"data": {"name": "D_labels"}, "mark": {"type": "text", "angle": -10, "fill": "white", "stroke": "white", "strokeWidth": 4}, "encoding": {"text": {"field": "t", "type": "nominal"}}},
        {"data": {"name": "D_labels"}, "mark": {"type": "text", "angle": -10, "fill": "#4c4cff"}, "encoding": {"text": {"field": "t", "type": "nominal"}}}
      ]
    },
    {
      "width": 513, "height": 92,
      "title": "Original X1 vs X3",
      "encoding": {
        "x": {"field": "x", "type": "quantitative", "scale": {"domain": [-0.06, 1.504], "nice": false, "zero": false}, "axis": {"title": null, "values": [0, 0.5, 1], "format": ".1f"}},
        "y": {"field": "y", "type": "quantitative", "scale": {"domain": [-0.039, 1.053], "nice": false, "zero": false}, "axis": {"title": null, "values": [0, 0.2, 0.4, 0.6, 0.8, 1], "labelExpr": "round(datum.value*10) % 4 == 0 ? format(datum.value, '.1f') : ''"}}
      },
      "layer": [
        {"data": {"name": "E_lines"}, "mark": {"type": "line", "interpolate": "cardinal", "color": "#222", "strokeWidth": 1}, "encoding": {"detail": {"field": "id", "type": "nominal"}, "order": {"field": "s", "type": "quantitative"}}},
        {"data": {"name": "E_labels"}, "mark": {"type": "text", "fill": "white", "stroke": "white", "strokeWidth": 4}, "encoding": {"text": {"field": "t", "type": "nominal"}}},
        {"data": {"name": "E_labels"}, "mark": {"type": "text", "fill": "#222"}, "encoding": {"text": {"field": "t", "type": "nominal"}}},
        {"data": {"name": "E_labels_up"}, "mark": {"type": "text", "angle": 285, "fill": "white", "stroke": "white", "strokeWidth": 4}, "encoding": {"text": {"field": "t", "type": "nominal"}}},
        {"data": {"name": "E_labels_up"}, "mark": {"type": "text", "angle": 285, "fill": "#222"}, "encoding": {"text": {"field": "t", "type": "nominal"}}},
        {"data": {"name": "E_labels_diag"}, "mark": {"type": "text", "angle": 315, "fill": "white", "stroke": "white", "strokeWidth": 4}, "encoding": {"text": {"field": "t", "type": "nominal"}}},
        {"data": {"name": "E_labels_diag"}, "mark": {"type": "text", "angle": 315, "fill": "#222"}, "encoding": {"text": {"field": "t", "type": "nominal"}}},
        {"data": {"name": "E_labels_tilt"}, "mark": {"type": "text", "angle": 18, "fill": "white", "stroke": "white", "strokeWidth": 4}, "encoding": {"text": {"field": "t", "type": "nominal"}}},
        {"data": {"name": "E_labels_tilt"}, "mark": {"type": "text", "angle": 18, "fill": "#222"}, "encoding": {"text": {"field": "t", "type": "nominal"}}}
      ]
    },
    {
      "width": 501, "height": 92,
      "title": "Synthetic X1 vs X3",
      "encoding": {
        "x": {"field": "x", "type": "quantitative", "scale": {"domain": [-0.186, 1.239], "nice": false, "zero": false}, "axis": {"title": null, "values": [0, 0.2, 0.4, 0.6, 0.8, 1, 1.2], "format": ".1f"}},
        "y": {"field": "y", "type": "quantitative", "scale": {"domain": [-0.752, 1.714], "nice": false, "zero": false}, "axis": {"title": null, "values": [-0.5, 0, 0.5, 1, 1.5], "labelExpr": "abs(round(datum.value*2)) % 2 == 1 ? format(datum.value, '.1f') : ''"}}
      },
      "layer": [
        {"data": {"name": "F_lines"}, "mark": {"type": "line", "interpolate": "cardinal", "color": "#4c4cff", "strokeWidth": 1}, "encoding": {"detail": {"field": "id", "type": "nominal"}, "order": {"field": "s", "type": "quantitative"}}},
        {"data": {"name": "F_labels"}, "mark": {"type": "text", "fill": "white", "stroke": "white", "strokeWidth": 4}, "encoding": {"text": {"field": "t", "type": "nominal"}}},
        {"data": {"name": "F_labels"}, "mark": {"type": "text", "fill": "#4c4cff"}, "encoding": {"text": {"field": "t", "type": "nominal"}}}
      ]
    }
  ]
}
